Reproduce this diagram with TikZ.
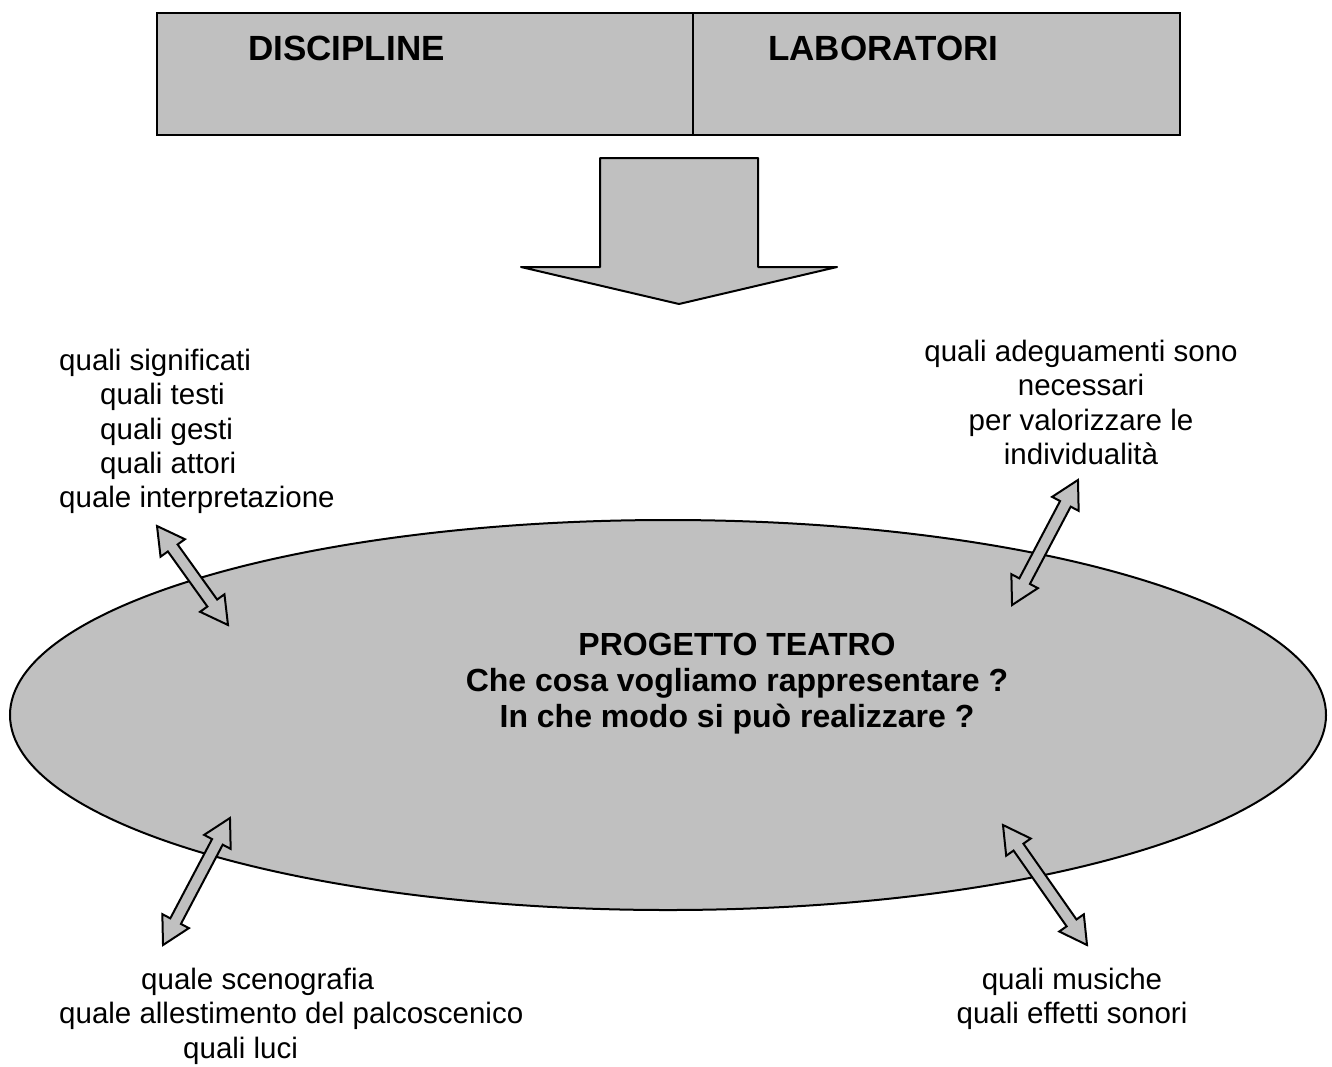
\documentclass[tikz,border=0pt]{standalone}
\usepackage{fontspec}
\setmainfont{Liberation Sans}
\usetikzlibrary{shapes.geometric}
\definecolor{stageGray}{RGB}{192,192,192}
\tikzset{pics/dblarrow/.style={code={
  \draw[line width=2pt, fill=stageGray, line join=miter]
    (-#1/2,0) -- (-#1/2+27,15) -- (-#1/2+27,6) -- (#1/2-27,6) -- (#1/2-27,15) -- (#1/2,0)
    -- (#1/2-27,-15) -- (#1/2-27,-6) -- (-#1/2+27,-6) -- (-#1/2+27,-15) -- cycle;
}}}
\begin{document}
\begin{tikzpicture}[x=1pt,y=-1pt]
  \tikzstyle{cell} = [draw, line width=2pt, fill=stageGray, minimum height=122pt, inner sep=0pt, anchor=north west]
  \tikzstyle{head} = [font=\bfseries\fontsize{35}{40}\selectfont, inner sep=0pt, anchor=base west]
  \tikzstyle{question} = [font=\fontsize{29.5}{34.3}\selectfont, inner sep=0pt]
  \useasboundingbox (0,0) rectangle (1332,1066);
  \node[cell, minimum width=536pt] (disc) at (156,12) {};
  \node[cell, minimum width=487pt] (lab) at (692,12) {};
  \node[head] (disctext) at (248,60) {DISCIPLINE};
  \node[head] (labtext) at (768,60) {LABORATORI};
  \draw[line width=2pt, fill=stageGray, line join=round] (600,158) -- (758,158) -- (758,267) -- (837,267) -- (679,304) -- (521,267) -- (600,267) -- cycle;
  \node[ellipse, draw, line width=2pt, fill=stageGray, minimum width=1316pt, minimum height=390pt, inner sep=0pt] (teatro) at (668,715) {};
  \node[font=\bfseries\fontsize{32}{36}\selectfont, align=center, inner sep=0pt] (titolo) at (737,684) {PROGETTO TEATRO\\Che cosa vogliamo rappresentare ?\\In che modo si può realizzare ?};
  \node[question, align=left, anchor=north west] (senso) at (59,349) {quali significati\\\hspace*{41pt}quali testi\\\hspace*{41pt}quali gesti\\\hspace*{41pt}quali attori\\quale interpretazione};
  \node[question, align=center, anchor=north] (persone) at (1081,340) {quali adeguamenti sono\\necessari\\per valorizzare le\\individualità};
  \node[question, align=left, anchor=north west] (scena) at (59,968) {\hspace*{82pt}quale scenografia\\quale allestimento del palcoscenico\\\hspace*{124pt}quali luci};
  \node[question, align=center, anchor=north] (suoni) at (1072,968) {quali musiche\\quali effetti sonori};
  \pic[rotate=-54.35] (arrowA) at (192.5,575.5) {dblarrow=121.8};
  \pic[rotate=62.2] (arrowB) at (1045,542.5) {dblarrow=141.4};
  \pic[rotate=62.2] (arrowC) at (196.5,881.5) {dblarrow=143.6};
  \pic[rotate=-55] (arrowD) at (1045,885) {dblarrow=146.5};
\end{tikzpicture}
\end{document}
